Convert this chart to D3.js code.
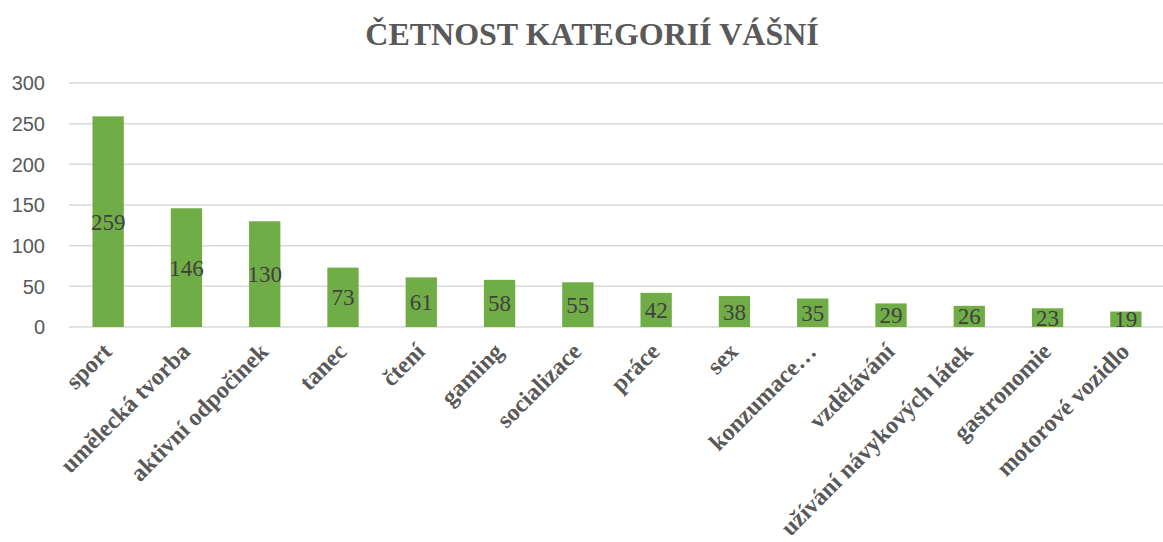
<!DOCTYPE html>
<html>
<head>
<meta charset="utf-8">
<script src="https://cdn.jsdelivr.net/npm/d3@7"></script>
<style>
  body { margin: 0; background: #fff; }
  svg { display: block; }
</style>
</head>
<body>
<div id="chart"></div>
<script>
// kategorie a četnosti
const categories = ["sport", "umělecká tvorba", "aktivní odpočinek", "tanec", "čtení", "gaming",
    "socializace", "práce", "sex", "konzumace…", "vzdělávání", "užívání návykových látek",
    "gastronomie", "motorové vozidlo"]
const counts = [259, 146, 130, 73, 61, 58, 55, 42, 38, 35, 29, 26, 23, 19]
const yTicks = [0, 50, 100, 150, 200, 250, 300]

var width = 1163;
var height = 542;
var margin = {top: 83, right: -2, bottom: 215, left: 69};

var svg = d3.select("#chart")
    .append("svg")
    .attr("width", width)
    .attr("height", height);

var x = d3.scaleBand()
    .domain(categories)
    .range([margin.left, width - margin.right])
    .paddingInner(0.6)
    .paddingOuter(0.3);

var y = d3.scaleLinear()
    .domain([0, 300])
    .range([height - margin.bottom, margin.top]);

// mřížka
svg.append("g")
    .selectAll("line")
    .data(yTicks)
    .enter()
    .append("line")
    .attr("x1", margin.left)
    .attr("x2", width)
    .attr("y1", d => y(d))
    .attr("y2", d => y(d))
    .attr("stroke", "#d9d9d9")
    .attr("stroke-width", 1.5);

// popisky osy y
svg.append("g")
    .selectAll("text")
    .data(yTicks)
    .enter()
    .append("text")
    .attr("x", 45)
    .attr("y", d => y(d))
    .attr("dy", "0.36em")
    .attr("text-anchor", "end")
    .attr("font-family", "'Liberation Sans', Arial, sans-serif")
    .attr("font-size", 20)
    .attr("fill", "#595959")
    .text(d => d);

// sloupce
svg.append("g")
    .selectAll("rect")
    .data(counts)
    .enter()
    .append("rect")
    .attr("x", (d, i) => x(categories[i]))
    .attr("width", x.bandwidth())
    .attr("y", d => y(d))
    .attr("height", d => y(0) - y(d))
    .attr("fill", "#70ad47");

// hodnoty uprostřed sloupců
svg.append("g")
    .selectAll("text")
    .data(counts)
    .enter()
    .append("text")
    .attr("x", (d, i) => x(categories[i]) + x.bandwidth() / 2)
    .attr("y", d => (y(d) + y(0)) / 2)
    .attr("dy", "0.35em")
    .attr("text-anchor", "middle")
    .attr("font-family", "'Liberation Serif', 'Times New Roman', serif")
    .attr("font-size", 23)
    .attr("fill", "#404040")
    .text(d => d);

// popisky kategorií
svg.append("g")
    .selectAll("text")
    .data(categories)
    .enter()
    .append("text")
    .attr("transform", d => "translate(" + (x(d) + x.bandwidth() / 2 + 5) + "," + (y(0) + 26) + ") rotate(-45)")
    .attr("text-anchor", "end")
    .attr("font-family", "'Liberation Serif', 'Times New Roman', serif")
    .attr("font-weight", "bold")
    .attr("font-size", 24)
    .attr("fill", "#595959")
    .text(d => d);

// titulek
svg.append("text")
    .attr("x", 592)
    .attr("y", 45)
    .attr("text-anchor", "middle")
    .attr("font-family", "'Liberation Serif', 'Times New Roman', serif")
    .attr("font-weight", "bold")
    .attr("font-size", 32)
    .attr("fill", "#595959")
    .text("ČETNOST KATEGORIÍ VÁŠNÍ");
</script>
</body>
</html>
